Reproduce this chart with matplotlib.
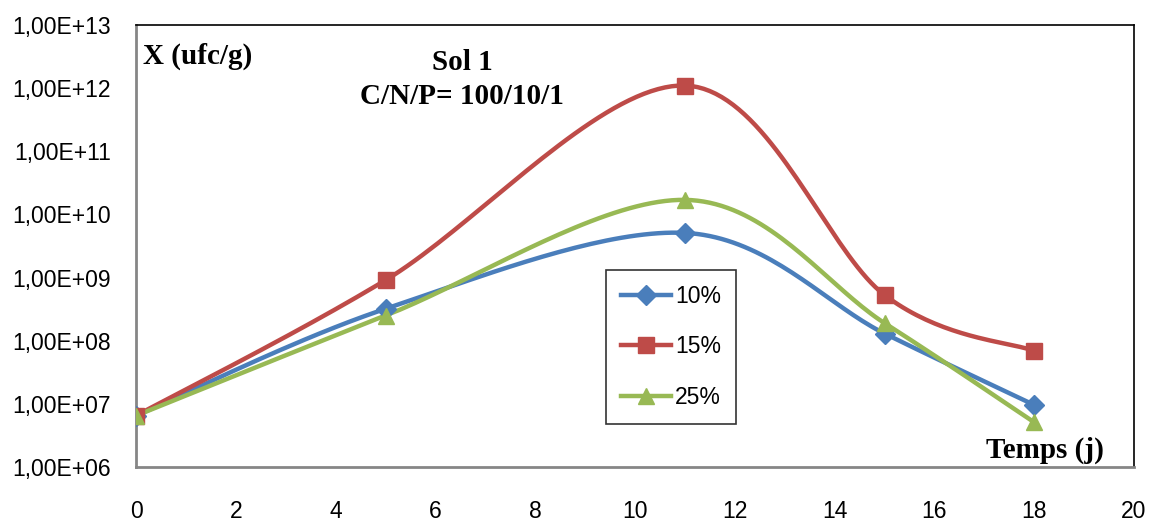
import matplotlib.pyplot as plt
import numpy as np

# Data
days = [0, 5, 11, 15, 18]
x_10 = [6.5e6, 3.2e8, 5.1e9, 1.3e8, 9.6e6]
x_15 = [6.5e6, 9.1e8, 1.1e12, 5.3e8, 6.9e7]
x_25 = [6.5e6, 2.5e8, 1.7e10, 1.9e8, 5.1e6]
labels = ["10%", "15%", "25%"]
colors = ["#4A7EBB", "#BE4B48", "#98B954"]
markers = ["D", "s", "^"]
msizes = [10, 11, 12]


def smooth(x, y, n=40):
    # Excel-like smoothed line: cubic Bezier with Catmull-Rom control points,
    # computed in (x, log10 y) so it follows the log axis
    p = np.column_stack([np.asarray(x, float), np.log10(y)])
    pts = []
    for i in range(len(p) - 1):
        p0 = p[i - 1] if i > 0 else p[i]
        p3 = p[i + 2] if i + 2 < len(p) else p[i + 1]
        c1 = p[i] + (p[i + 1] - p0) / 6
        c2 = p[i + 1] - (p3 - p[i]) / 6
        t = np.linspace(0, 1, n)[:, None]
        seg = ((1 - t) ** 3 * p[i] + 3 * (1 - t) ** 2 * t * c1
               + 3 * (1 - t) * t ** 2 * c2 + t ** 3 * p[i + 1])
        pts.append(seg if i == 0 else seg[1:])
    pts = np.vstack(pts)
    return pts[:, 0], 10 ** pts[:, 1]


fig = plt.figure(figsize=(11.54, 5.23), dpi=100)
ax = fig.add_axes([0.1179, 0.1071, 0.8648, 0.8451])

for ys, lab, c, m, ms in zip([x_10, x_15, x_25], labels, colors, markers, msizes):
    sx, sy = smooth(days, ys)
    ax.plot(sx, sy, color=c, lw=3.2, zorder=2)
    ax.plot(days, ys, ls="none", marker=m, ms=ms, color=c, mec=c, zorder=3)
    ax.plot([], [], color=c, lw=3.2, marker=m, ms=ms, label=lab)

ax.set_yscale("log")
ax.set_ylim(1e6, 1e13)
ax.set_xlim(0, 20)
ax.set_xticks(range(0, 21, 2))
ax.set_yticks([10.0 ** k for k in range(6, 14)])
ax.set_yticklabels([f"1,00E+{k:02d}" for k in range(6, 14)])
ax.minorticks_off()
ax.tick_params(length=0, labelsize=16.5, pad=18)
ax.tick_params(axis="x", pad=24)
for t in ax.get_xticklabels() + ax.get_yticklabels():
    t.set_fontfamily("Liberation Sans")

for s in ["left", "bottom"]:
    ax.spines[s].set_color("#868686")
    ax.spines[s].set_linewidth(2)
for s in ["top", "right"]:
    ax.spines[s].set_color("black")
    ax.spines[s].set_linewidth(1.2)

serif = dict(family="Liberation Serif", weight="bold")
ax.text(0.007, 0.928, "X (ufc/g)", transform=ax.transAxes, fontsize=21, **serif,
        va="center", ha="left")
ax.text(0.3265, 0.876, "Sol 1\nC/N/P= 100/10/1", transform=ax.transAxes,
        fontsize=21, linespacing=1.35, ha="center", va="center", **serif)
ax.text(0.97, 0.038, "Temps (j)", transform=ax.transAxes, fontsize=21, **serif,
        ha="right", va="center")

leg = ax.legend(loc="upper left", bbox_to_anchor=(0.471, 0.4457), frameon=True,
                fancybox=False, edgecolor="black",
                handlelength=2.2, labelspacing=1.2, borderpad=0.65,
                handletextpad=0.15, borderaxespad=0,
                prop={"family": "Liberation Sans", "size": 16.5})
leg.get_frame().set_linewidth(1.2)

fig.savefig("out.png", dpi=100)
